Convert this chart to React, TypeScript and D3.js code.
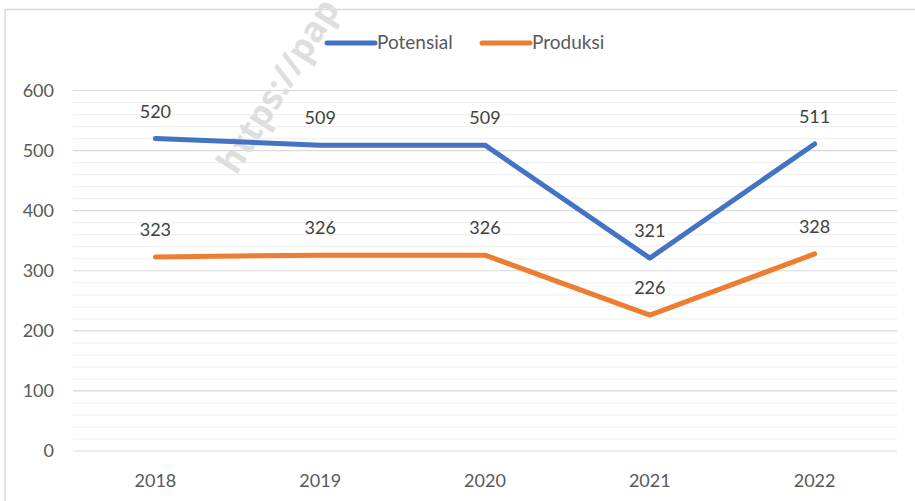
import React, { useEffect, useRef } from "react";
import * as d3 from "d3";

const years = ["2018", "2019", "2020", "2021", "2022"];
const potensial = [520, 509, 509, 321, 511];
const produksi = [323, 326, 326, 226, 328];
const yTicks = [0, 100, 200, 300, 400, 500, 600];
const seriesNames = ["Potensial", "Produksi"];
const seriesColors = ["#4472C4", "#ED7D31"];

const App = () => {
  const svgRef = useRef(null);

  useEffect(() => {
    const width = 915;
    const height = 501;
    const font = "Lato, 'Open Sans', sans-serif";
    const textColor = "#595959";

    const svg = d3.select(svgRef.current)
      .attr("width", width)
      .attr("height", height);

    // remove old element before rebuild
    svg.selectAll("*").remove();

    svg.append("rect").attr("width", width).attr("height", height).attr("fill", "#fff");

    // chart border (cropped on right and bottom)
    svg.append("path")
      .attr("d", `M5,${height} L5,9.5 L${width},9.5`)
      .attr("fill", "none")
      .attr("stroke", "#d9d9d9")
      .attr("stroke-width", 1.5);

    const x = d3.scaleBand().domain(years).range([73, 897]);
    const y = d3.scaleLinear().domain([0, 600]).range([451, 90.5]);

    // minor gridlines
    svg.append("g")
      .selectAll("line")
      .data(d3.range(0, 600, 20).filter((v) => v % 100 !== 0))
      .join("line")
      .attr("x1", 73).attr("x2", 897)
      .attr("y1", (d) => y(d)).attr("y2", (d) => y(d))
      .attr("stroke", "#f0f0f0")
      .attr("stroke-width", 1.2);

    // major gridlines
    svg.append("g")
      .selectAll("line")
      .data(yTicks)
      .join("line")
      .attr("x1", 73).attr("x2", 897)
      .attr("y1", (d) => y(d)).attr("y2", (d) => y(d))
      .attr("stroke", "#d9d9d9")
      .attr("stroke-width", 1.2);

    // y tick labels
    svg.append("g")
      .selectAll("text")
      .data(yTicks)
      .join("text")
      .attr("x", 54)
      .attr("y", (d) => y(d) + 6)
      .attr("text-anchor", "end")
      .attr("font-family", font)
      .attr("font-size", 18)
      .attr("fill", textColor)
      .text((d) => d);

    // x tick labels
    svg.append("g")
      .selectAll("text")
      .data(years)
      .join("text")
      .attr("x", (d) => x(d) + x.bandwidth() / 2)
      .attr("y", 487)
      .attr("text-anchor", "middle")
      .attr("font-family", font)
      .attr("font-size", 18)
      .attr("fill", textColor)
      .text((d) => d);

    // watermark
    svg.append("text")
      .attr("transform", "translate(236,176) rotate(-58)")
      .attr("font-family", "'Open Sans', sans-serif")
      .attr("font-weight", "bold")
      .attr("font-size", 35)
      .attr("fill", "#dedede")
      .text("https://pap");

    const line = d3.line()
      .x((d, i) => x(years[i]) + x.bandwidth() / 2)
      .y((d) => y(d));

    [potensial, produksi].forEach((values, s) => {
      svg.append("path")
        .datum(values)
        .attr("d", line)
        .attr("fill", "none")
        .attr("stroke", seriesColors[s])
        .attr("stroke-width", 5)
        .attr("stroke-linecap", "round")
        .attr("stroke-linejoin", "round");

      svg.append("g")
        .selectAll("text")
        .data(values)
        .join("text")
        .attr("x", (d, i) => x(years[i]) + x.bandwidth() / 2)
        .attr("y", (d) => y(d) - 21)
        .attr("text-anchor", "middle")
        .attr("font-family", font)
        .attr("font-size", 18)
        .attr("fill", "#404040")
        .text((d) => d);
    });

    // legend
    const legendX = [325, 480];
    seriesNames.forEach((name, s) => {
      svg.append("line")
        .attr("x1", legendX[s] + 2).attr("x2", legendX[s] + 50)
        .attr("y1", 43).attr("y2", 43)
        .attr("stroke", seriesColors[s])
        .attr("stroke-width", 5)
        .attr("stroke-linecap", "round");
      svg.append("text")
        .attr("x", legendX[s] + 52)
        .attr("y", 49)
        .attr("font-family", font)
        .attr("font-size", 19)
        .attr("fill", textColor)
        .text(name);
    });
  }, []);

  return (
    <svg ref={svgRef} style={{ position: "absolute", left: 0, top: 0 }} />
  );
};

export default App;
